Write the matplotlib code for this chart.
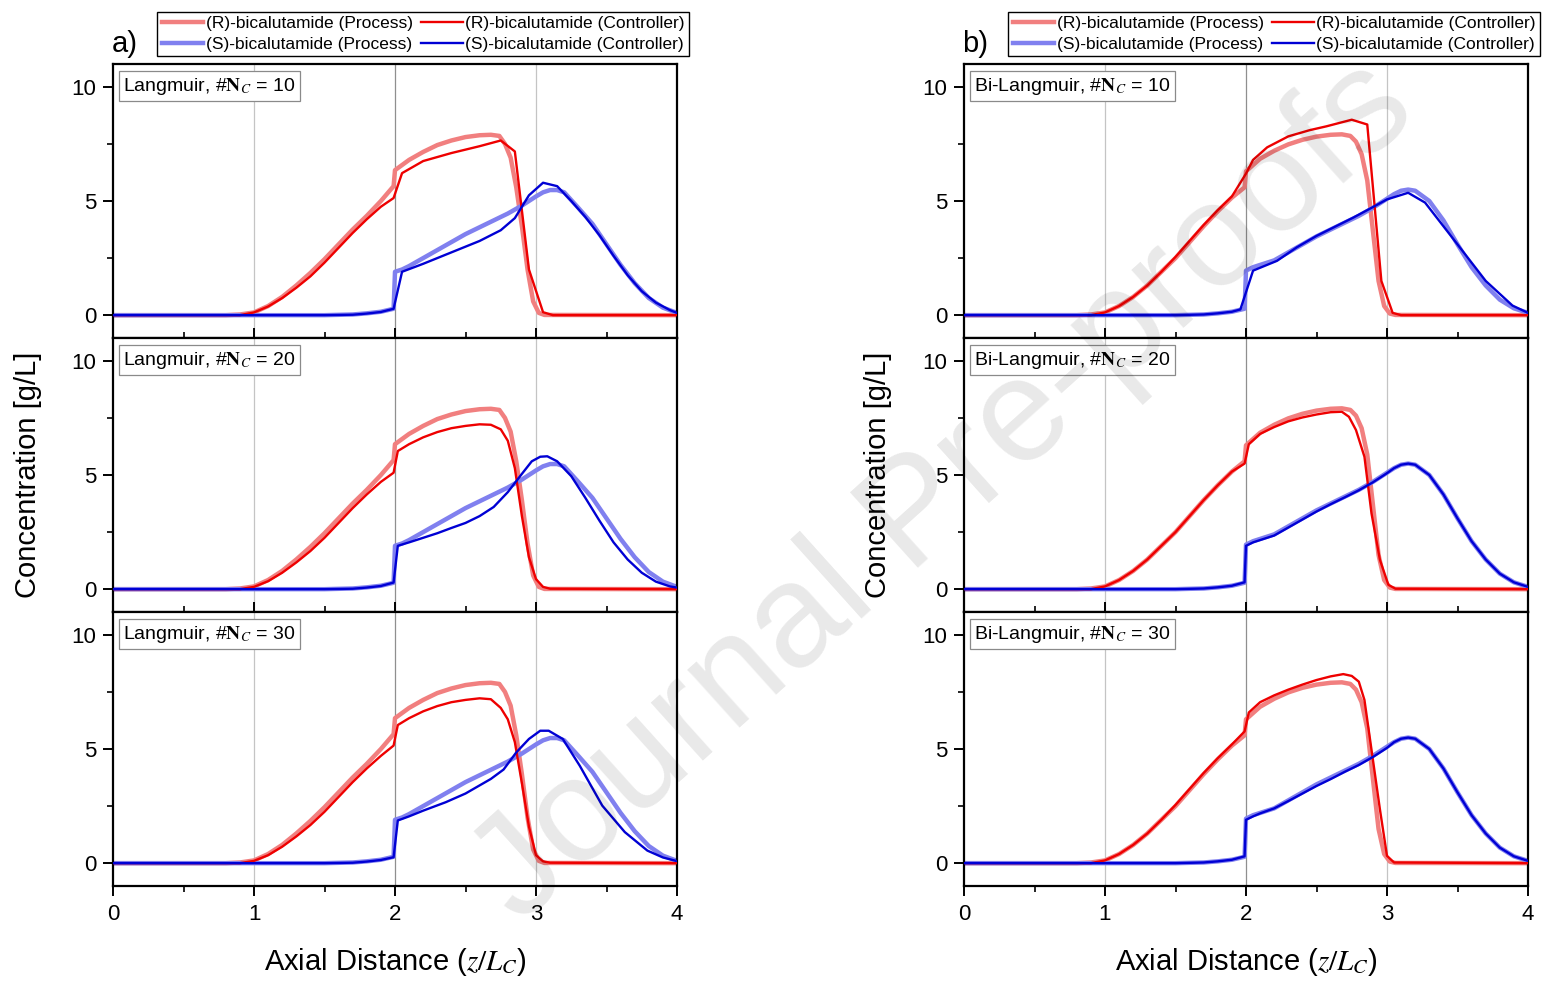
import matplotlib
matplotlib.use('Agg')
import matplotlib.pyplot as plt
from matplotlib.ticker import MultipleLocator
from matplotlib.lines import Line2D

plt.rcParams['font.family'] = ['Liberation Sans', 'DejaVu Sans']
plt.rcParams['mathtext.fontset'] = 'stix'

# ---------------- data ----------------
x_proc_R = [0, 0.8, 0.9, 1.0, 1.1, 1.2, 1.3, 1.4, 1.5, 1.6, 1.7, 1.8, 1.9, 1.99, 2.0,
            2.1, 2.2, 2.3, 2.4, 2.5, 2.6, 2.68, 2.74, 2.78, 2.82, 2.86, 2.9, 2.94,
            2.98, 3.02, 3.06, 4.0]
lang_proc_R = [0, 0, 0.03, 0.12, 0.4, 0.8, 1.3, 1.85, 2.45, 3.1, 3.75, 4.35, 5.0, 5.65,
               6.35, 6.8, 7.15, 7.45, 7.65, 7.8, 7.88, 7.9, 7.85, 7.5, 6.9, 5.6, 3.9,
               2.0, 0.6, 0.1, 0.01, 0]
bilang_proc_R = [0, 0, 0.03, 0.12, 0.4, 0.8, 1.3, 1.9, 2.5, 3.2, 3.9, 4.55, 5.15, 5.6,
                 6.3, 6.85, 7.2, 7.48, 7.68, 7.82, 7.9, 7.92, 7.85, 7.6, 7.05, 5.9, 3.7,
                 1.5, 0.4, 0.07, 0.01, 0]

x_proc_S = [0, 1.5, 1.7, 1.8, 1.9, 1.99, 2.0, 2.05, 2.1, 2.2, 2.3, 2.4, 2.5, 2.6, 2.7,
            2.8, 2.9, 3.0, 3.05, 3.1, 3.15, 3.2, 3.3, 3.4, 3.5, 3.6, 3.7, 3.8, 3.9, 4.0]
lang_proc_S = [0, 0, 0.03, 0.08, 0.15, 0.28, 1.9, 2.0, 2.15, 2.5, 2.85, 3.2, 3.55, 3.85,
               4.15, 4.45, 4.8, 5.2, 5.38, 5.48, 5.48, 5.38, 4.7, 4.0, 3.1, 2.2, 1.4,
               0.75, 0.33, 0.1]
bilang_proc_S = [0, 0, 0.03, 0.08, 0.15, 0.28, 1.95, 2.1, 2.2, 2.4, 2.75, 3.1, 3.45,
                 3.75, 4.05, 4.35, 4.7, 5.1, 5.3, 5.45, 5.5, 5.45, 5.0, 4.15, 3.1, 2.1,
                 1.3, 0.68, 0.3, 0.1]

# Langmuir controllers
x_l10_R = [0, 0.9, 1.0, 1.1, 1.2, 1.3, 1.4, 1.5, 1.6, 1.7, 1.8, 1.9, 1.99, 2.05, 2.2,
           2.4, 2.6, 2.75, 2.85, 2.95, 3.05, 3.12, 4.0]
l10_R = [0, 0, 0.12, 0.38, 0.75, 1.2, 1.7, 2.3, 2.95, 3.6, 4.2, 4.75, 5.13, 6.22, 6.75,
         7.1, 7.4, 7.65, 7.17, 2.0, 0.13, 0, 0]
x_l10_S = [0, 1.5, 1.7, 1.8, 1.9, 1.99, 2.05, 2.2, 2.4, 2.6, 2.75, 2.85, 2.95, 3.05,
           3.15, 3.25, 3.35, 3.45, 3.55, 3.65, 3.75, 3.85, 3.95, 4.0]
l10_S = [0, 0, 0.02, 0.07, 0.14, 0.28, 1.9, 2.25, 2.75, 3.25, 3.72, 4.25, 5.25, 5.8,
         5.65, 5.0, 4.3, 3.5, 2.6, 1.75, 1.05, 0.55, 0.22, 0.1]

x_l20_R = [0, 0.9, 1.0, 1.1, 1.2, 1.3, 1.4, 1.5, 1.6, 1.7, 1.8, 1.9, 1.99, 2.02, 2.1,
           2.2, 2.3, 2.4, 2.5, 2.6, 2.68, 2.75, 2.8, 2.85, 2.9, 2.95, 3.0, 3.05, 3.1, 4.0]
l20_R = [0, 0, 0.1, 0.35, 0.72, 1.17, 1.67, 2.25, 2.9, 3.55, 4.15, 4.7, 5.1, 6.05, 6.35,
         6.65, 6.88, 7.05, 7.15, 7.22, 7.2, 7.0, 6.5, 5.3, 3.2, 1.4, 0.44, 0.1, 0.02, 0]
x_l20_S = [0, 1.5, 1.7, 1.8, 1.9, 1.99, 2.02, 2.1, 2.2, 2.3, 2.4, 2.5, 2.6, 2.7, 2.8,
           2.9, 2.97, 3.03, 3.08, 3.15, 3.25, 3.35, 3.45, 3.55, 3.65, 3.75, 3.85, 3.95, 4.0]
l20_S = [0, 0, 0.02, 0.07, 0.14, 0.29, 1.9, 2.05, 2.25, 2.45, 2.68, 2.9, 3.2, 3.6, 4.25,
         5.05, 5.6, 5.8, 5.82, 5.6, 4.95, 4.0, 3.0, 2.05, 1.3, 0.72, 0.33, 0.12, 0.07]

x_l30_R = [0, 0.9, 1.0, 1.1, 1.2, 1.3, 1.4, 1.5, 1.6, 1.7, 1.8, 1.9, 1.99, 2.02, 2.1,
           2.2, 2.3, 2.4, 2.5, 2.6, 2.68, 2.75, 2.8, 2.85, 2.9, 2.95, 3.0, 3.05, 3.1, 4.0]
l30_R = [0, 0, 0.1, 0.35, 0.72, 1.17, 1.67, 2.25, 2.9, 3.55, 4.15, 4.7, 5.15, 6.05, 6.35,
         6.65, 6.88, 7.05, 7.15, 7.22, 7.18, 6.8, 6.3, 5.3, 3.5, 1.6, 0.35, 0.08, 0.02, 0]
x_l30_S = [0, 1.5, 1.7, 1.8, 1.9, 1.99, 2.02, 2.1, 2.2, 2.36, 2.5, 2.68, 2.77, 2.86,
           2.95, 3.03, 3.09, 3.19, 3.31, 3.47, 3.63, 3.79, 3.9, 4.0]
l30_S = [0, 0, 0.02, 0.07, 0.14, 0.26, 1.87, 2.05, 2.3, 2.67, 3.05, 3.69, 4.1, 4.85,
         5.44, 5.8, 5.8, 5.44, 4.27, 2.52, 1.36, 0.55, 0.25, 0.09]

# Bi-Langmuir controllers
x_b10_R = [0, 0.9, 1.0, 1.1, 1.2, 1.3, 1.4, 1.5, 1.6, 1.7, 1.8, 1.9, 2.0, 2.05, 2.15,
           2.3, 2.45, 2.57, 2.75, 2.86, 2.96, 3.04, 3.1, 4.0]
b10_R = [0, 0, 0.12, 0.4, 0.8, 1.3, 1.9, 2.55, 3.25, 3.95, 4.6, 5.2, 6.2, 6.8, 7.35,
         7.83, 8.1, 8.27, 8.56, 8.35, 1.5, 0.1, 0, 0]
x_b10_S = [0, 1.5, 1.7, 1.8, 1.9, 1.96, 2.05, 2.22, 2.36, 2.5, 2.76, 2.89, 3.0, 3.15,
           3.27, 3.5, 3.7, 3.89, 4.0]
b10_S = [0, 0, 0.03, 0.08, 0.15, 0.25, 1.95, 2.38, 2.97, 3.47, 4.27, 4.7, 5.07, 5.36,
         4.93, 3.1, 1.5, 0.42, 0.1]

x_b20_R = [0, 0.9, 1.0, 1.1, 1.2, 1.3, 1.4, 1.5, 1.6, 1.7, 1.8, 1.9, 1.99, 2.02, 2.1,
           2.2, 2.3, 2.4, 2.5, 2.6, 2.68, 2.73, 2.78, 2.84, 2.89, 2.95, 3.01, 3.06, 4.0]
b20_R = [0, 0, 0.12, 0.4, 0.8, 1.3, 1.9, 2.5, 3.2, 3.9, 4.55, 5.15, 5.5, 6.35, 6.8, 7.1,
         7.35, 7.52, 7.65, 7.75, 7.77, 7.55, 6.97, 5.8, 3.32, 1.28, 0.19, 0.02, 0]
x_b20_S = x_proc_S
b20_S = [0, 0, 0.03, 0.08, 0.15, 0.3, 1.9, 2.05, 2.15, 2.35, 2.7, 3.05, 3.4, 3.72, 4.02,
         4.33, 4.68, 5.08, 5.3, 5.45, 5.5, 5.45, 5.0, 4.15, 3.1, 2.1, 1.3, 0.68, 0.3, 0.1]

x_b30_R = [0, 0.9, 1.0, 1.1, 1.2, 1.3, 1.4, 1.5, 1.6, 1.7, 1.8, 1.9, 1.99, 2.02, 2.1,
           2.2, 2.3, 2.4, 2.5, 2.6, 2.69, 2.75, 2.8, 2.84, 2.89, 2.95, 3.0, 3.05, 4.0]
b30_R = [0, 0, 0.12, 0.4, 0.8, 1.3, 1.9, 2.55, 3.25, 3.95, 4.6, 5.2, 5.77, 6.6, 7.05,
         7.35, 7.6, 7.82, 8.02, 8.18, 8.28, 8.2, 7.95, 7.15, 4.97, 2.35, 0.32, 0.03, 0]
x_b30_S = x_proc_S
b30_S = [0, 0, 0.03, 0.08, 0.15, 0.3, 1.9, 2.05, 2.18, 2.4, 2.72, 3.05, 3.38, 3.68, 4.0,
         4.3, 4.65, 5.05, 5.3, 5.45, 5.5, 5.45, 5.0, 4.15, 3.1, 2.1, 1.3, 0.68, 0.3, 0.1]

panel_titles_a = [r'Langmuir, #$\mathbf{N}_{C}$ = 10', r'Langmuir, #$\mathbf{N}_{C}$ = 20',
                  r'Langmuir, #$\mathbf{N}_{C}$ = 30']
panel_titles_b = [r'Bi-Langmuir, #$\mathbf{N}_{C}$ = 10', r'Bi-Langmuir, #$\mathbf{N}_{C}$ = 20',
                  r'Bi-Langmuir, #$\mathbf{N}_{C}$ = 30']
legend_labels = ['(R)-bicalutamide (Process)', '(S)-bicalutamide (Process)',
                 '(R)-bicalutamide (Controller)', '(S)-bicalutamide (Controller)']

# ---------------- styling ----------------
C_PR = '#f17f7f'
C_PS = '#8080ef'
C_CR = '#ee0000'
C_CS = '#0000d4'

fig = plt.figure(figsize=(15.42, 9.82), dpi=100)

col_left = [113 / 1542, 964 / 1542]
ax_w = 564 / 1542
ax_h = 274 / 982
bottoms = [(982 - 338) / 982, (982 - 612) / 982, (982 - 886) / 982]

columns = [
    dict(procR=lang_proc_R, procS=lang_proc_S,
         ctrl=[(x_l10_R, l10_R, x_l10_S, l10_S),
               (x_l20_R, l20_R, x_l20_S, l20_S),
               (x_l30_R, l30_R, x_l30_S, l30_S)],
         titles=panel_titles_a),
    dict(procR=bilang_proc_R, procS=bilang_proc_S,
         ctrl=[(x_b10_R, b10_R, x_b10_S, b10_S),
               (x_b20_R, b20_R, x_b20_S, b20_S),
               (x_b30_R, b30_R, x_b30_S, b30_S)],
         titles=panel_titles_b),
]

for ci, col in enumerate(columns):
    for ri in range(3):
        ax = fig.add_axes([col_left[ci], bottoms[ri], ax_w, ax_h])
        for xv, c in [(1, '#c4c4c4'), (2, '#8f8f8f'), (3, '#c4c4c4')]:
            ax.axvline(xv, color=c, lw=0.9, zorder=0)
        xr, yr, xs, ys = col['ctrl'][ri]
        ax.plot(x_proc_R, col['procR'], color=C_PR, lw=3.2, solid_capstyle='round', zorder=2)
        ax.plot(x_proc_S, col['procS'], color=C_PS, lw=3.2, solid_capstyle='round', zorder=2)
        ax.plot(xr, yr, color=C_CR, lw=1.7, zorder=3)
        ax.plot(xs, ys, color=C_CS, lw=1.7, zorder=4)
        ax.set_xlim(0, 4)
        ax.set_ylim(-1, 11)
        ax.xaxis.set_major_locator(MultipleLocator(1))
        ax.xaxis.set_minor_locator(MultipleLocator(0.5))
        ax.yaxis.set_major_locator(MultipleLocator(5))
        ax.yaxis.set_minor_locator(MultipleLocator(2.5))
        for sp in ax.spines.values():
            sp.set_linewidth(1.6)
        ax.tick_params(axis='y', which='both', direction='out', left=True, right=False,
                       labelsize=16, pad=5)
        ax.tick_params(axis='y', which='major', length=7, width=1.4)
        ax.tick_params(axis='y', which='minor', length=4, width=1.2)
        last = (ri == 2)
        ax.tick_params(axis='x', which='both', direction='out' if last else 'in',
                       bottom=True, top=False, labelbottom=last, labelsize=16, pad=6)
        ax.tick_params(axis='x', which='major', length=7, width=1.4)
        ax.tick_params(axis='x', which='minor', length=4, width=1.2)
        ax.text(0.0175, 0.958, col['titles'][ri], transform=ax.transAxes, ha='left',
                va='top', fontsize=14, zorder=6,
                bbox=dict(boxstyle='square,pad=0.22', fc='white', ec='#8a8a8a', lw=0.9))

# axis labels
for xc in [28 / 1542, 878 / 1542]:
    fig.text(xc, 1 - 475 / 982, 'Concentration [g/L]', rotation=90, ha='center',
             va='center', fontsize=21)
for xc in [395 / 1542, 1246 / 1542]:
    fig.text(xc, 1 - 962 / 982, r'Axial Distance ($z/L_C$)', ha='center', va='center',
             fontsize=21)

fig.text(112 / 1542, 1 - 44 / 982, 'a)', ha='left', va='center', fontsize=21)
fig.text(962 / 1542, 1 - 44 / 982, 'b)', ha='left', va='center', fontsize=21)

handles = [Line2D([], [], color=C_PR, lw=3.2), Line2D([], [], color=C_PS, lw=3.2),
           Line2D([], [], color=C_CR, lw=1.7), Line2D([], [], color=C_CS, lw=1.7)]
for xr in [689 / 1542, 1540 / 1542]:
    leg = fig.legend(handles, legend_labels, ncol=2, loc='upper right',
                     bbox_to_anchor=(xr, 1 - 12 / 982), bbox_transform=fig.transFigure,
                     fontsize=12.5, frameon=True, fancybox=False, edgecolor='black',
                     framealpha=1, handlelength=2.4, handletextpad=0.15,
                     columnspacing=0.45, labelspacing=0.3, borderpad=0.25,
                     borderaxespad=0)
    leg.get_frame().set_linewidth(1.0)

# watermark
fig.text(945 / 1542, 1 - 492 / 982, 'Journal Pre-proofs', rotation=42, ha='center',
         va='center', fontsize=106, color='black', alpha=0.09, zorder=10)

fig.savefig('out.png', dpi=100)
